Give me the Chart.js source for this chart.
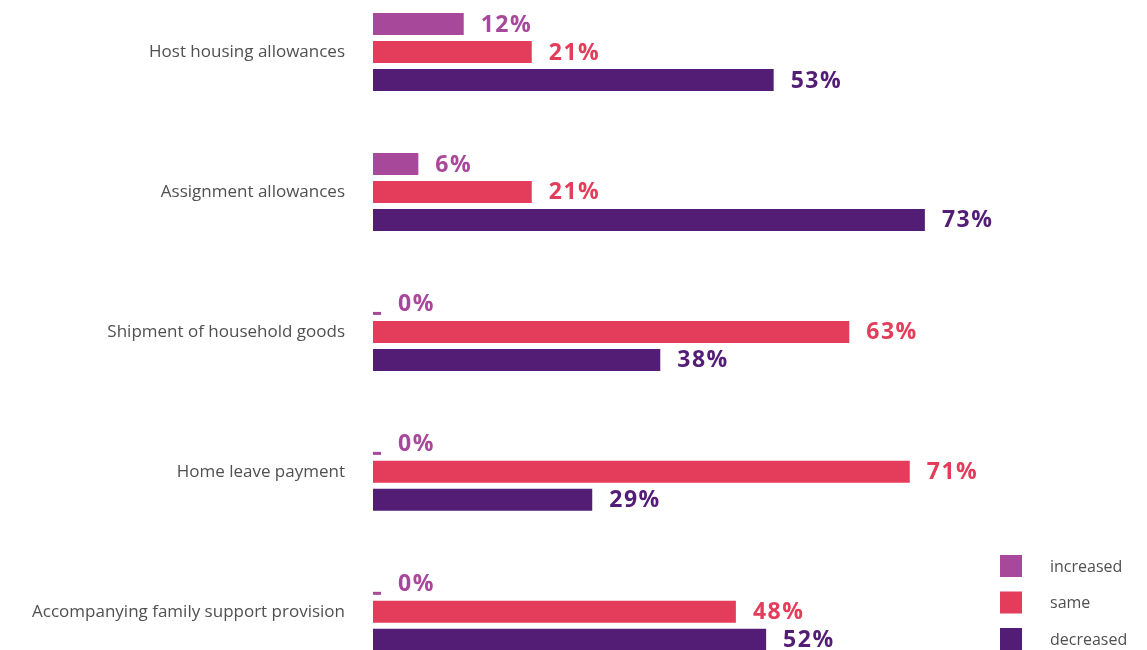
<!DOCTYPE html>
<html>
<head>
<meta charset="utf-8">
<script src="https://cdn.jsdelivr.net/npm/chart.js@4"></script>
<style>
  html, body { margin: 0; padding: 0; background: #ffffff; }
  #wrap { position: relative; width: 1147px; height: 650px; }
</style>
</head>
<body>
<div id="wrap"><canvas id="chart"></canvas></div>
<script>
// Change in assignment benefits, share of respondents per answer
const categories = [
  'Host housing allowances',
  'Assignment allowances',
  'Shipment of household goods',
  'Home leave payment',
  'Accompanying family support provision'
];
const seriesNames = ['increased', 'same', 'decreased'];
const increased = [12, 6, 0, 0, 0];
const same = [21, 21, 63, 71, 48];
const decreased = [53, 73, 38, 29, 52];
const seriesColors = ['#A8489A', '#E33D5B', '#541D75'];

const FONT = "'Open Sans', 'Noto Sans', sans-serif";

// Value labels after each bar; a zero value is shown as a short dash
const valueLabels = {
  id: 'valueLabels',
  afterDatasetsDraw(chart) {
    const ctx = chart.ctx;
    ctx.save();
    chart.data.datasets.forEach((ds, di) => {
      const meta = chart.getDatasetMeta(di);
      meta.data.forEach((bar, i) => {
        const v = ds.data[i];
        let endX = bar.x;
        if (v === 0) {
          const bottom = bar.y + bar.height / 2;
          ctx.fillStyle = ds.backgroundColor;
          ctx.fillRect(bar.base, bottom - 3, 8, 3);
          endX = bar.base + 8;
        }
        ctx.fillStyle = ds.backgroundColor;
        ctx.font = "bold 23px " + FONT;
        ctx.letterSpacing = '1.5px';
        ctx.textAlign = 'left';
        ctx.textBaseline = 'middle';
        ctx.fillText(v + '%', endX + 17, bar.y + 1);
      });
    });
    ctx.restore();
  }
};

// Square-swatch legend in the lower right corner
const cornerLegend = {
  id: 'cornerLegend',
  afterDraw(chart) {
    const ctx = chart.ctx;
    ctx.save();
    const x0 = chart.width - 147;
    const y0 = chart.height - 95;
    chart.data.datasets.forEach((ds, i) => {
      const y = y0 + i * 36.5;
      ctx.fillStyle = ds.backgroundColor;
      ctx.fillRect(x0, y, 22, 22);
      ctx.fillStyle = '#505050';
      ctx.font = "16px " + FONT;
      ctx.textAlign = 'left';
      ctx.textBaseline = 'middle';
      ctx.fillText(ds.label, x0 + 50, y + 12);
    });
    ctx.restore();
  }
};

new Chart(document.getElementById('chart'), {
  type: 'bar',
  data: {
    labels: categories,
    datasets: [increased, same, decreased].map((vals, k) => ({
      label: seriesNames[k],
      data: vals,
      backgroundColor: seriesColors[k],
      borderWidth: 0,
      categoryPercentage: 0.6,
      barPercentage: 0.787,
      clip: false
    }))
  },
  options: {
    indexAxis: 'y',
    responsive: true,
    maintainAspectRatio: false,
    animation: false,
    layout: { padding: { top: 52, bottom: 38, right: 18, left: 0 } },
    plugins: {
      legend: { display: false },
      tooltip: { enabled: false }
    },
    scales: {
      x: {
        display: false,
        min: 0,
        max: 100
      },
      y: {
        offset: false,
        grid: { display: false, drawTicks: false },
        border: { display: false },
        ticks: {
          padding: 28,
          color: '#505050',
          font: { family: FONT, size: 17 }
        },
        afterFit(scale) { scale.width = 373; }
      }
    }
  },
  plugins: [valueLabels, cornerLegend]
});
</script>
</body>
</html>
